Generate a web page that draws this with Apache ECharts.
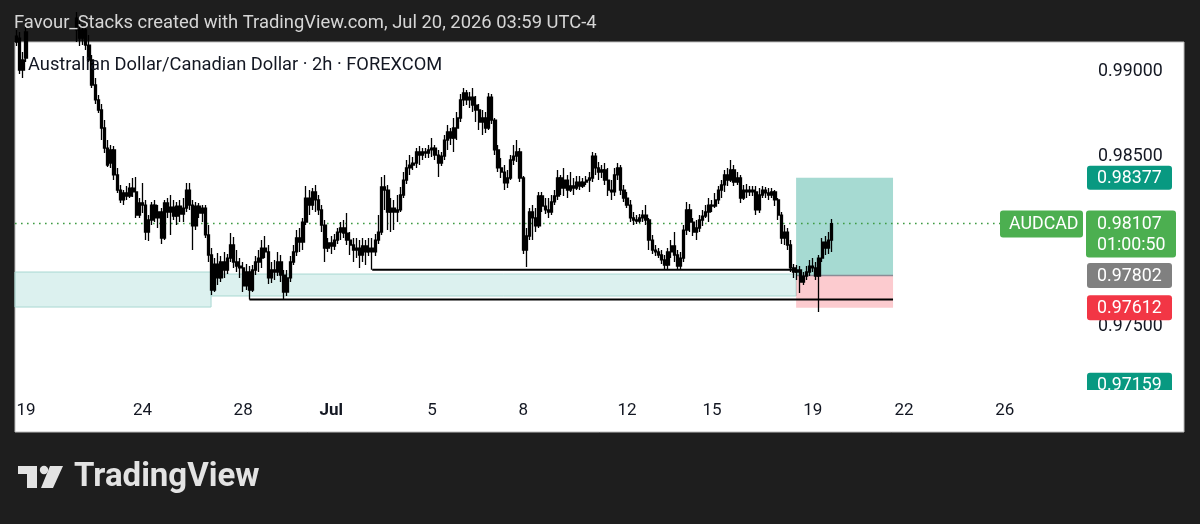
<!DOCTYPE html>
<html><head><meta charset="utf-8">
<script src="https://cdn.jsdelivr.net/npm/echarts@6/dist/echarts.min.js"></script>
<style>html,body{margin:0;padding:0;background:#1e1e1e;}#c{width:1200px;height:524px;}</style>
</head><body><div id="c"></div>
<script>
// ---- DATA (AUDCAD, 2h candles, FOREXCOM) ----
const opens = [
.99175,.99198,.99010,.99081,.99234,.99363,.99422,.99510,.99451,.99540,
.99481,.99422,.99469,.99393,.99334,.99375,.99304,.99351,.99275,.99316,
.99246,.99198,.99246,.99157,.99069,.98922,.98834,.98775,.98669,.98551,
.98463,.98540,.98393,.98304,.98246,.98287,.98269,.98316,.98293,.98157,
.98228,.98216,.98057,.98128,.98216,.98140,.98175,.98022,.98228,.98175,
.98204,.98151,.98210,.98163,.98198,.98304,.98216,.98093,.98210,.98169,
.98198,.98040,.97922,.97716,.97869,.97787,.97881,.97834,.97904,.97981,
.97881,.97857,.97846,.97740,.97822,.97716,.97834,.97881,.97904,.97963,
.97940,.97787,.97834,.97822,.97881,.97804,.97704,.97787,.97881,.97940,
.98022,.97998,.98116,.98257,.98216,.98293,.98246,.98187,.98098,.97963,
.97993,.97975,.98010,.98057,.98081,.98051,.98010,.97981,.97951,.97963,
.97922,.97975,.97940,.97963,.97940,.98010,.98057,.98322,.98304,.98175,
.98198,.98175,.98187,.98275,.98363,.98434,.98451,.98463,.98528,.98510,
.98528,.98522,.98540,.98551,.98510,.98463,.98504,.98598,.98646,.98610,
.98669,.98728,.98834,.98875,.98834,.98851,.98804,.98775,.98704,.98728,
.98669,.98851,.98716,.98540,.98434,.98410,.98346,.98375,.98481,.98504,
.98528,.98375,.97951,.98034,.98175,.98140,.98093,.98269,.98210,.98187,
.98175,.98234,.98269,.98375,.98316,.98363,.98304,.98328,.98316,.98351,
.98328,.98351,.98363,.98375,.98504,.98434,.98410,.98422,.98363,.98304,
.98293,.98393,.98434,.98304,.98257,.98216,.98140,.98128,.98122,.98140,
.98157,.98128,.98010,.97951,.97940,.97922,.97893,.97863,.97940,.97975,
.97922,.97857,.97904,.98069,.98187,.98116,.98057,.98081,.98128,.98151,
.98175,.98216,.98210,.98246,.98304,.98334,.98393,.98363,.98422,.98351,
.98375,.98257,.98304,.98293,.98304,.98293,.98187,.98275,.98304,.98287,
.98275,.98293,.98246,.98157,.98022,.98057,.97981,.97846,.97822,.97834,
.97763,.97798,.97822,.97857,.97846,.97798,.97904,.97998,.97963,.98010];
const closes = [
.99210,.99010,.99069,.99234,.99363,.99422,.99510,.99451,.99540,.99481,
.99422,.99469,.99393,.99334,.99375,.99304,.99351,.99275,.99316,.99246,
.99198,.99246,.99157,.99069,.98922,.98834,.98775,.98669,.98551,.98451,
.98540,.98393,.98304,.98246,.98287,.98269,.98316,.98293,.98157,.98228,
.98216,.98057,.98128,.98216,.98140,.98175,.98022,.98228,.98175,.98204,
.98151,.98210,.98163,.98198,.98304,.98216,.98093,.98210,.98169,.98198,
.98040,.97922,.97716,.97869,.97787,.97881,.97834,.97904,.97981,.97881,
.97857,.97846,.97740,.97822,.97716,.97834,.97881,.97904,.97963,.97940,
.97787,.97834,.97822,.97881,.97804,.97704,.97787,.97881,.97940,.98022,
.97998,.98116,.98257,.98216,.98293,.98246,.98187,.98098,.97963,.97993,
.97975,.98010,.98057,.98081,.98051,.98010,.97981,.97951,.97963,.97922,
.97975,.97940,.97963,.97940,.98010,.98057,.98322,.98304,.98175,.98198,
.98175,.98187,.98275,.98363,.98434,.98451,.98463,.98528,.98510,.98528,
.98522,.98540,.98551,.98510,.98463,.98504,.98598,.98646,.98610,.98669,
.98728,.98834,.98875,.98834,.98851,.98804,.98775,.98704,.98728,.98669,
.98851,.98716,.98540,.98434,.98410,.98346,.98375,.98481,.98504,.98528,
.98375,.97951,.98034,.98175,.98140,.98093,.98269,.98210,.98187,.98175,
.98234,.98269,.98375,.98316,.98363,.98304,.98328,.98316,.98351,.98328,
.98351,.98363,.98375,.98504,.98434,.98410,.98422,.98363,.98304,.98293,
.98393,.98434,.98304,.98257,.98216,.98140,.98128,.98122,.98140,.98157,
.98128,.98010,.97951,.97940,.97922,.97893,.97863,.97940,.97975,.97922,
.97857,.97904,.98069,.98187,.98116,.98057,.98081,.98128,.98151,.98175,
.98216,.98210,.98246,.98304,.98334,.98393,.98363,.98422,.98351,.98375,
.98257,.98304,.98293,.98304,.98293,.98187,.98275,.98304,.98287,.98275,
.98293,.98246,.98157,.98022,.98057,.97981,.97846,.97822,.97834,.97763,
.97798,.97822,.97857,.97846,.97798,.97904,.97998,.97963,.98010,.98107];
const lows = [
.99151,.98987,.98963,.99057,.99210,.99334,.99393,.99410,.99422,.99440,
.99375,.99363,.99351,.99293,.99275,.99257,.99246,.99228,.99210,.99175,
.99151,.99157,.99128,.99057,.98904,.98810,.98757,.98598,.98522,.98440,
.98434,.98363,.98287,.98228,.98216,.98246,.98257,.98263,.98140,.98140,
.98169,.98010,.98004,.98098,.98116,.98081,.97987,.98010,.98140,.98040,
.98128,.98098,.98116,.98116,.98175,.98187,.97951,.98069,.98140,.98116,
.98022,.97881,.97687,.97704,.97746,.97763,.97787,.97810,.97881,.97846,
.97822,.97787,.97704,.97716,.97660,.97704,.97804,.97822,.97846,.97904,
.97751,.97757,.97775,.97798,.97763,.97660,.97681,.97763,.97863,.97916,
.97940,.97951,.98098,.98157,.98187,.98175,.98157,.98057,.97881,.97940,
.97928,.97951,.97987,.98010,.98022,.97981,.97922,.97881,.97904,.97846,
.97881,.97863,.97916,.97836,.97916,.97987,.98040,.98187,.98069,.98057,
.98069,.98116,.98175,.98257,.98340,.98393,.98422,.98434,.98451,.98481,
.98493,.98493,.98498,.98481,.98381,.98446,.98481,.98540,.98569,.98528,
.98598,.98704,.98798,.98804,.98787,.98763,.98704,.98657,.98628,.98640,
.98657,.98693,.98510,.98410,.98375,.98304,.98316,.98363,.98451,.98469,
.98351,.97928,.97851,.98010,.98010,.98057,.98081,.98175,.98163,.98140,
.98157,.98216,.98246,.98275,.98269,.98257,.98293,.98275,.98304,.98304,
.98316,.98334,.98293,.98351,.98393,.98363,.98375,.98334,.98269,.98246,
.98269,.98363,.98275,.98234,.98198,.98116,.98098,.98104,.98110,.98116,
.98098,.97951,.97928,.97916,.97904,.97869,.97836,.97836,.97904,.97881,
.97836,.97836,.97881,.98040,.98057,.98034,.98010,.98057,.98093,.98140,
.98116,.98175,.98198,.98222,.98257,.98293,.98328,.98351,.98328,.98334,
.98228,.98246,.98257,.98269,.98269,.98157,.98169,.98257,.98257,.98246,
.98257,.98210,.98128,.97987,.97981,.97951,.97822,.97787,.97775,.97698,
.97746,.97775,.97798,.97822,.97775,.97587,.97881,.97922,.97928,.97940];
const highs = [
.99246,.99234,.99116,.99275,.99393,.99481,.99540,.99569,.99598,.99587,
.99510,.99504,.99493,.99422,.99410,.99404,.99393,.99375,.99363,.99351,
.99304,.99275,.99257,.99216,.99098,.98963,.98863,.98810,.98716,.98598,
.98569,.98563,.98434,.98334,.98304,.98328,.98346,.98375,.98381,.98257,
.98346,.98246,.98157,.98234,.98246,.98216,.98198,.98246,.98257,.98275,
.98246,.98234,.98246,.98257,.98346,.98346,.98246,.98234,.98228,.98216,
.98216,.98098,.97963,.97904,.97934,.97916,.97940,.97928,.98051,.98028,
.97951,.97904,.97881,.97869,.97857,.97863,.97916,.97951,.98010,.98034,
.97981,.97881,.97893,.97940,.97922,.97834,.97834,.97916,.97981,.98069,
.98081,.98140,.98328,.98304,.98316,.98334,.98275,.98216,.98128,.98022,
.98034,.98046,.98081,.98116,.98128,.98169,.98057,.98022,.98022,.98010,
.98022,.98010,.98022,.98022,.98046,.98157,.98381,.98393,.98334,.98257,
.98246,.98275,.98322,.98410,.98481,.98510,.98498,.98551,.98563,.98551,
.98551,.98569,.98610,.98569,.98540,.98528,.98628,.98687,.98669,.98728,
.98763,.98869,.98904,.98893,.98881,.98904,.98857,.98810,.98775,.98763,
.98875,.98869,.98728,.98569,.98493,.98451,.98422,.98510,.98569,.98598,
.98551,.98387,.98081,.98198,.98216,.98198,.98293,.98293,.98257,.98257,
.98275,.98304,.98422,.98393,.98434,.98393,.98410,.98375,.98387,.98387,
.98375,.98387,.98410,.98528,.98522,.98469,.98451,.98463,.98434,.98363,
.98434,.98463,.98451,.98334,.98293,.98246,.98175,.98157,.98163,.98187,
.98216,.98140,.98040,.97981,.97963,.97951,.97922,.97963,.98010,.98057,
.97951,.97940,.98098,.98234,.98222,.98140,.98128,.98157,.98187,.98216,
.98257,.98246,.98287,.98328,.98363,.98422,.98434,.98481,.98451,.98410,
.98393,.98334,.98340,.98328,.98328,.98328,.98316,.98328,.98322,.98316,
.98316,.98304,.98257,.98175,.98098,.98081,.98010,.97869,.97863,.97857,
.97822,.97857,.97893,.97904,.97881,.97922,.98022,.98034,.98057,.98134];

// time scale: total bar slots (incl. future) and day labels at slot indices
const slotCount = 340;
const dayTickSlots = [3, 40, 72, 100, 132, 161, 194, 221, 253, 282, 314];
const dayTickLabels = ['19', '24', '28', 'Jul', '5', '8', '12', '15', '19', '22', '26'];

// price scale range
const priceMin = 0.97128, priceMax = 0.99175;

// drawings (bar-slot x, price y)
const lastPrice = 0.98107, countdown = '01:00:50', symbolTag = 'AUDCAD';
const takeProfit = 0.98377, entryPrice = 0.97802, stopLoss = 0.97612, otherLevel = 0.97159;
const positionSlots = [247.7, 278.5];
const zoneRects = [[-0.5, 61.8, 0.97822, 0.97616], [61.8, 247.7, 0.97810, 0.97681]];
const supportLines = [[74, 278.5, 0.97660], [113, 247.4, 0.97836]];
const priceLineEnd = 312.5;

const headerText = 'Favour_Stacks created with TradingView.com, Jul 20, 2026 03:59 UTC-4';
const legendText = 'Australian Dollar/Canadian Dollar · 2h · FOREXCOM';

// ---- build ----
const cats = new Array(slotCount).fill('');
dayTickSlots.forEach((s, i) => cats[s] = dayTickLabels[i]);
const candles = opens.map((o, i) => [o, closes[i], lows[i], highs[i]]);

function rectSeries(data, style, z) {
  return {
    type: 'custom', xAxisIndex: 1, yAxisIndex: 0, silent: true, z: z,
    data: data, encode: {x: [0, 1], y: [2, 3]},
    renderItem: (params, api) => {
      const p0 = api.coord([api.value(0), api.value(2)]);
      const p1 = api.coord([api.value(1), api.value(3)]);
      return {type: 'rect', shape: {x: p0[0], y: p0[1], width: p1[0] - p0[0], height: p1[1] - p0[1]}, style: style};
    }
  };
}
function hLine(x0, x1, y, color, width, type, z) {
  return {type: 'line', xAxisIndex: 1, yAxisIndex: 0, silent: true, symbol: 'none', z: z, animation: false,
    data: [[x0, y], [x1, y]], lineStyle: {color: color, width: width, type: type}};
}

const FONT = 'Roboto';
const series = [
  rectSeries(zoneRects, {fill: 'rgba(178,223,219,0.45)', stroke: '#a9d8d2', lineWidth: 1}, 1),
  rectSeries([[positionSlots[0], positionSlots[1], takeProfit, entryPrice]], {fill: 'rgba(8,153,129,0.36)'}, 1),
  rectSeries([[positionSlots[0], positionSlots[1], entryPrice, stopLoss]], {fill: 'rgba(242,54,69,0.26)'}, 1),
  hLine(positionSlots[0], positionSlots[1], entryPrice, '#8a8d96', 1.5, 'solid', 3),
  hLine(-0.5, priceLineEnd, lastPrice, '#3f9b43', 1.6, [1.6, 4.4], 3),
  {
    type: 'candlestick', xAxisIndex: 0, yAxisIndex: 0, z: 4,
    data: candles, barWidth: 2.8,
    itemStyle: {color: '#000', color0: '#000', borderColor: '#000', borderColor0: '#000', borderWidth: 1.3}
  }
];
supportLines.forEach(l => series.push(hLine(l[0], l[1], l[2], '#000', 2, 'solid', 5)));

const option = {
  animation: false,
  backgroundColor: '#1e1e1e',
  grid: {left: 15, right: 115, top: 42, bottom: 134, containLabel: false},
  xAxis: [
    {type: 'category', data: cats, boundaryGap: true,
     axisLine: {show: false}, axisTick: {show: false}, splitLine: {show: false},
     axisLabel: {interval: 0, color: '#131722', fontSize: 17, fontFamily: FONT, margin: 12,
       formatter: v => v === 'Jul' ? '{b|Jul}' : v,
       rich: {b: {fontWeight: 'bold', fontSize: 17, fontFamily: FONT, color: '#131722'}}}},
    {type: 'value', min: -0.5, max: slotCount - 0.5, show: false}
  ],
  yAxis: [{type: 'value', position: 'right', min: priceMin, max: priceMax,
    minInterval: 0.005, maxInterval: 0.005, splitNumber: 4,
    axisLine: {show: false}, axisTick: {show: false}, splitLine: {show: false},
    axisLabel: {showMinLabel: false, showMaxLabel: false, color: '#131722', fontSize: 17.8, fontFamily: FONT,
      margin: 13, formatter: v => v.toFixed(5)}}],
  series: series
};

const chart = echarts.init(document.getElementById('c'), null, {renderer: 'canvas', width: 1200, height: 524});
chart.setOption(option);

const py = v => chart.convertToPixel({yAxisIndex: 0}, v);
const TAGFONT = '17.8px ' + FONT;
function tag(yc, text, color, x, w, h) {
  return [
    {type: 'rect', z: 50, shape: {x: x, y: yc - h / 2, width: w, height: h, r: 3}, style: {fill: color}},
    {type: 'text', z: 51, x: x + 10, y: yc + 1, style: {text: text, fill: '#fff', font: TAGFONT, verticalAlign: 'middle', align: 'left'}}
  ];
}
const g = [];
// panel
g.push({type: 'rect', z: -10, shape: {x: 15, y: 42, width: 1169, height: 390}, style: {fill: '#fff', stroke: '#bdbdbd', lineWidth: 1}});
// header + legend
g.push({type: 'text', z: 60, x: 14, y: 23, style: {text: headerText, fill: '#d6d6d6', font: '18.4px ' + FONT, verticalAlign: 'middle'}});
g.push({type: 'text', z: 60, x: 28, y: 65, style: {text: legendText, fill: '#131722', font: '18.3px ' + FONT, verticalAlign: 'middle'}});
// price tags
g.push(...tag(py(takeProfit), takeProfit.toFixed(5), '#089981', 1087, 85, 24));
g.push(...tag(py(entryPrice), entryPrice.toFixed(5), '#808080', 1087, 85, 25));
g.push(...tag(py(stopLoss), stopLoss.toFixed(5), '#f23645', 1087, 85, 25));
g.push(...tag(py(otherLevel), otherLevel.toFixed(5), '#089981', 1087, 85, 24));
g.push({type: 'rect', z: 55, shape: {x: 1086, y: 390, width: 96, height: 12}, style: {fill: '#fff'}});
const yl = py(lastPrice);
g.push({type: 'rect', z: 50, shape: {x: 1086, y: yl - 13, width: 90, height: 47, r: 3}, style: {fill: '#4caf50'}});
g.push({type: 'text', z: 51, x: 1097, y: yl + 1, style: {text: lastPrice.toFixed(5), fill: '#fff', font: TAGFONT, verticalAlign: 'middle'}});
g.push({type: 'text', z: 51, x: 1097, y: yl + 22, style: {text: countdown, fill: '#fff', font: TAGFONT, verticalAlign: 'middle'}});
g.push({type: 'rect', z: 50, shape: {x: 1000, y: yl - 13, width: 83, height: 27, r: 3}, style: {fill: '#4caf50'}});
g.push({type: 'text', z: 51, x: 1009, y: yl + 1, style: {text: symbolTag, fill: '#fff', font: TAGFONT, verticalAlign: 'middle'}});
// logo
g.push({type: 'polygon', z: 60, shape: {points: [[18, 466], [37, 466], [37, 488], [27, 488], [27, 474], [18, 474]]}, style: {fill: '#e3e3e3'}});
g.push({type: 'circle', z: 60, shape: {cx: 44, cy: 470, r: 4.2}, style: {fill: '#e3e3e3'}});
g.push({type: 'polygon', z: 60, shape: {points: [[50, 466], [63, 466], [53, 488], [41, 488]]}, style: {fill: '#e3e3e3'}});
g.push({type: 'text', z: 60, x: 74, y: 478, style: {text: 'TradingView', fill: '#e3e3e3', font: 'bold 33px ' + FONT, verticalAlign: 'middle'}});
chart.setOption({graphic: g});
</script></body></html>
